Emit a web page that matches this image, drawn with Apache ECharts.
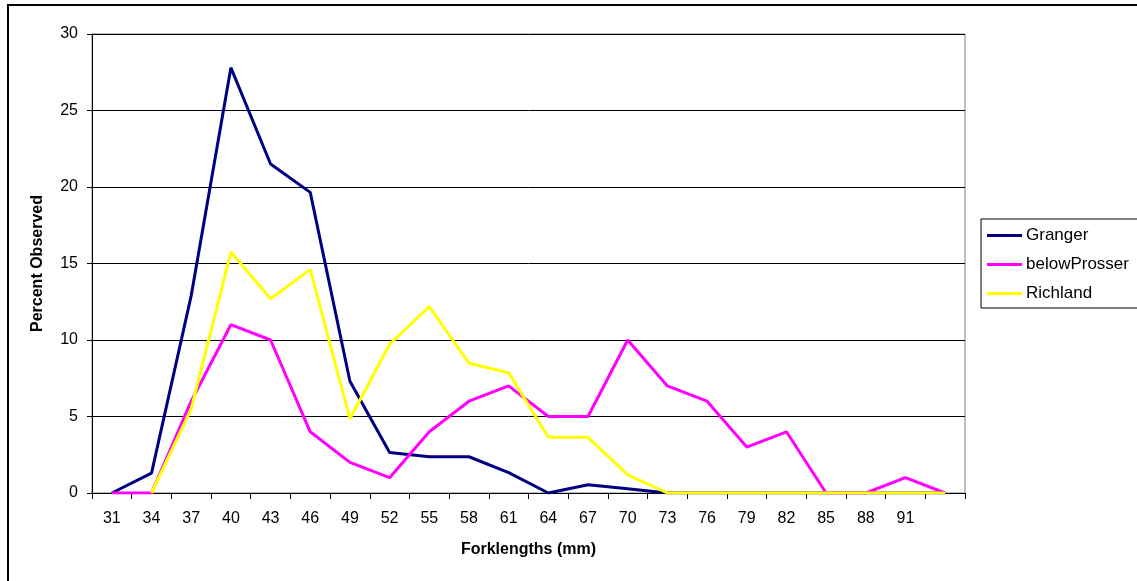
<!DOCTYPE html>
<html>
<head>
<meta charset="utf-8">
<title>Forklength distribution</title>
<script src="https://cdn.jsdelivr.net/npm/echarts@6/dist/echarts.min.js"></script>
<style>
  html, body { margin: 0; padding: 0; background: #fff; }
  #chart { width: 1137px; height: 581px; }
</style>
</head>
<body>
<div id="chart"></div>
<script>
// Forklength bins (mm); the final bin carries no label on the axis
const categories = ['31','34','37','40','43','46','49','52','55','58','61','64','67','70','73','76','79','82','85','88','91',''];

// Percent of fish observed in each bin, by site
const granger = [0, 1.3, 12.9, 27.8, 21.5, 19.65, 7.3, 2.65, 2.37, 2.37, 1.33, 0, 0.54, 0.28, 0, 0, 0, 0, 0, 0, 0, 0];
const belowProsser = [0, 0, 6, 11, 10, 4, 2, 1, 4, 6, 7, 5, 5, 10, 7, 6, 3, 4, 0, 0, 1, 0];
const richland = [null, 0, 5.5, 15.75, 12.7, 14.6, 4.85, 9.72, 12.18, 8.48, 7.86, 3.64, 3.64, 1.18, 0, 0, 0, 0, 0, 0, 0, 0];

const yTicks = { min: 0, max: 30, interval: 5 };

const font = 'Liberation Sans, Arial, sans-serif';
const chart = echarts.init(document.getElementById('chart'));

const lineSeries = (name, data, color) => ({
  name,
  type: 'line',
  data,
  symbol: 'none',
  connectNulls: false,
  lineStyle: { color, width: 3 },
  itemStyle: { color },
  emphasis: { disabled: true },
  animation: false
});

chart.setOption({
  animation: false,
  backgroundColor: '#fff',
  graphic: [{
    type: 'rect',
    shape: { x: 8, y: 5, width: 1300, height: 800 },
    style: { fill: 'none', stroke: '#000', lineWidth: 2 },
    silent: true
  }],
  grid: {
    left: 92, top: 34, right: 172, bottom: 88,
    show: true, borderColor: '#808080', borderWidth: 1, backgroundColor: 'transparent'
  },
  legend: {
    orient: 'vertical',
    left: 981, top: 219,
    itemWidth: 35, itemHeight: 3, itemGap: 12,
    padding: [8, 60, 6, 6],
    borderColor: '#000', borderWidth: 1,
    icon: 'rect',
    textStyle: { fontFamily: font, fontSize: 17, color: '#000', padding: [0, 0, 0, -1] },
    data: ['Granger', 'belowProsser', 'Richland']
  },
  xAxis: {
    type: 'category',
    data: categories,
    boundaryGap: true,
    name: 'Forklengths (mm)',
    nameLocation: 'middle',
    nameGap: 49,
    nameTextStyle: { fontFamily: font, fontSize: 16, fontWeight: 'bold', color: '#000' },
    axisLine: { lineStyle: { color: '#000', width: 1 } },
    axisTick: { show: true, alignWithLabel: false, length: 6, lineStyle: { color: '#000' } },
    axisLabel: { interval: 0, margin: 18, fontFamily: font, fontSize: 16, color: '#000' },
    splitLine: { show: false }
  },
  yAxis: {
    type: 'value',
    min: yTicks.min, max: yTicks.max, interval: yTicks.interval,
    name: 'Percent Observed',
    nameLocation: 'middle',
    nameGap: 46,
    nameRotate: 90,
    nameTextStyle: { fontFamily: font, fontSize: 16, fontWeight: 'bold', color: '#000' },
    axisLine: { show: true, lineStyle: { color: '#000', width: 1 } },
    axisTick: { show: true, length: 5, lineStyle: { color: '#000' } },
    axisLabel: { margin: 14, fontFamily: font, fontSize: 16, color: '#000' },
    splitLine: { show: true, lineStyle: { color: '#000', width: 1 } }
  },
  series: [
    lineSeries('Granger', granger, '#000080'),
    lineSeries('belowProsser', belowProsser, '#FF00FF'),
    lineSeries('Richland', richland, '#FFFF00')
  ]
});
</script>
</body>
</html>
